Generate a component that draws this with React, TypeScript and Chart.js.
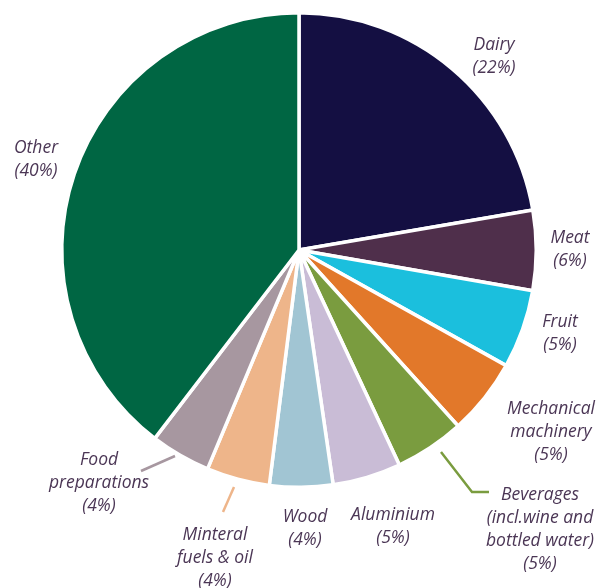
import React, { useEffect, useRef } from "react";
import { Chart, registerables } from "chart.js";

Chart.register(...registerables);

const categories = [
  "Dairy",
  "Meat",
  "Fruit",
  "Mechanical machinery",
  "Beverages (incl.wine and bottled water)",
  "Aluminium",
  "Wood",
  "Minteral fuels & oil",
  "Food preparations",
  "Other",
];
const shares = [22.3, 5.45, 5.35, 5.2, 4.75, 4.65, 4.3, 4.3, 4.1, 39.6];
const shareLabels = ["22%", "6%", "5%", "5%", "5%", "5%", "4%", "4%", "4%", "40%"];
const labelLines = [
  ["Dairy"],
  ["Meat"],
  ["Fruit"],
  ["Mechanical", "machinery"],
  ["Beverages", "(incl.wine and", "bottled water)"],
  ["Aluminium"],
  ["Wood"],
  ["Minteral", "fuels & oil"],
  ["Food", "preparations"],
  ["Other"],
];

const colors = [
  "#140f42",
  "#4f2f4b",
  "#1bbfdd",
  "#e2782a",
  "#7a9c3f",
  "#c9bcd6",
  "#a1c5d3",
  "#eeb58a",
  "#a797a0",
  "#006643",
];

// label anchor (center x, first line middle y)
const labelPos: [number, number][] = [
  [494, 45],
  [570, 238],
  [560, 322],
  [551, 409],
  [540, 495],
  [393, 515],
  [305, 517],
  [215, 535],
  [99, 460],
  [36, 148],
];

// leader lines (layout)
const leaders: { color: string; pts: [number, number][] }[] = [
  { color: "#a797a0", pts: [[141, 471], [175, 456]] },
  { color: "#eeb58a", pts: [[234, 487], [223, 512]] },
  { color: "#7a9c3f", pts: [[441, 452], [472, 492], [489, 492]] },
];

const LINE_H = 23;
const TEXT_COLOR = "#4b3655";

const labelPlugin = {
  id: "sliceLabels",
  afterDraw(chart: any) {
    const ctx = chart.ctx as CanvasRenderingContext2D;
    ctx.save();
    leaders.forEach((l) => {
      ctx.beginPath();
      ctx.strokeStyle = l.color;
      ctx.lineWidth = 2.5;
      l.pts.forEach(([x, y], i) => (i === 0 ? ctx.moveTo(x, y) : ctx.lineTo(x, y)));
      ctx.stroke();
    });
    ctx.fillStyle = TEXT_COLOR;
    ctx.font = "italic 17.5px 'Open Sans'";
    ctx.textAlign = "center";
    ctx.textBaseline = "middle";
    categories.forEach((_, i) => {
      const [x, y] = labelPos[i];
      const lines = [...labelLines[i], "(" + shareLabels[i] + ")"];
      lines.forEach((t, j) => ctx.fillText(t, x, y + j * LINE_H));
    });
    ctx.restore();
  },
};

export default function App() {
  const ref = useRef<HTMLCanvasElement>(null);
  useEffect(() => {
    if (!ref.current) return;
    const chart = new Chart(ref.current, {
      type: "pie",
      data: {
        labels: categories,
        datasets: [
          {
            data: shares,
            backgroundColor: colors,
            borderColor: "#ffffff",
            borderWidth: 3.5,
          },
        ],
      },
      options: {
        responsive: false,
        animation: false,
        layout: { padding: { left: 60, right: 58, top: 11, bottom: 99 } },
        plugins: {
          legend: { display: false },
          tooltip: { enabled: false },
        },
      },
      plugins: [labelPlugin],
    });
    return () => chart.destroy();
  }, []);
  return (
    <div style={{ position: "absolute", left: 0, top: 0, width: 596, height: 588, background: "#fff" }}>
      <canvas ref={ref} width={596} height={588} style={{ display: "block" }} />
    </div>
  );
}
